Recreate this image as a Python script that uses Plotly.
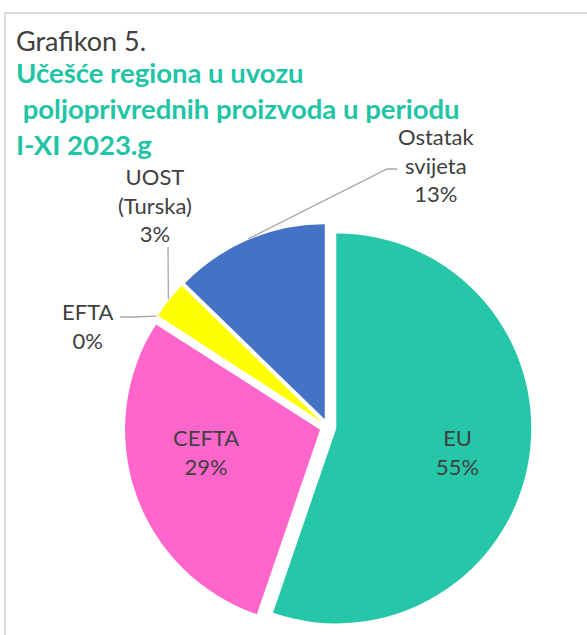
import math
import plotly.graph_objects as go

# ---- data ----
labels = ["EU", "CEFTA", "EFTA", "UOST (Turska)", "Ostatak svijeta"]
values = [55.2, 28.8, 0.1, 3.1, 12.7]
label_texts = ["EU<br>55%", "CEFTA<br>29%", "EFTA<br>0%", "UOST<br>(Turska)<br>3%", "Ostatak<br>svijeta<br>13%"]
colors = ["#25C7A8", "#FF66CC", "#FFFFFF", "#FFFF00", "#4472C4"]

W, H = 587, 635
CX, CY = 328, 427      # pie centre (px)
R = 195                # pie radius (px)
PULL = 0.043

half = R * (1 + PULL)
dom_x = [(CX - half) / W, (CX + half) / W]
dom_y = [1 - (CY + half) / H, 1 - (CY - half) / H]

fig = go.Figure(go.Pie(
    labels=labels, values=values, sort=False, direction="clockwise", rotation=0,
    marker=dict(colors=colors, line=dict(color="white", width=0)),
    pull=[PULL] * len(values), textinfo="none", hoverinfo="label+percent",
    domain=dict(x=dom_x, y=dom_y), showlegend=False,
))

def px(x, y):
    return x / W, 1 - y / H

# label positions (px, centre of text block)
label_pos = [(457, 452), (206, 452), (88, 326), (155, 205), (436, 165)]
font_lab = dict(family="Lato, Calibri, sans-serif", size=22, color="#404040")
for t, (lx, ly) in zip(label_texts, label_pos):
    ax_, ay_ = px(lx, ly)
    fig.add_annotation(x=ax_, y=ay_, xref="paper", yref="paper", text=t, showarrow=False,
                       xanchor="center", yanchor="middle", align="center", font=font_lab)

# leader lines: anchor at slice bisector, computed from data
total = sum(values)
cum = 0
anchors = []
for v in values:
    mid = (cum + v / 2) / total * 2 * math.pi
    cum += v
    r = R * (1 + PULL) + 1
    anchors.append((CX + r * math.sin(mid), CY - r * math.cos(mid)))

leader_ends = {2: [(132, 317), (120, 317)], 3: [(168, 247)], 4: [(387, 169), (397, 169)]}
for i, pts in leader_ends.items():
    allp = [anchors[i]] + pts
    path = "M " + " L ".join(f"{x/W:.5f},{1 - y/H:.5f}" for x, y in allp)
    fig.add_shape(type="path", path=path, xref="paper", yref="paper",
                  line=dict(color="#A6A6A6", width=1.3))

# titles
x0, y0 = px(14, 40)
fig.add_annotation(x=x0, y=y0, xref="paper", yref="paper", text="Grafikon 5.", showarrow=False,
                   xanchor="left", yanchor="middle",
                   font=dict(family="Lato, Calibri, sans-serif", size=27, color="#404040"))
x1, y1 = px(14, 108)
fig.add_annotation(x=x1, y=y1, xref="paper", yref="paper",
                   text="<b>Učešće regiona u uvozu<br>\u00a0poljoprivrednih proizvoda u periodu<br>I-XI 2023.g</b>",
                   showarrow=False, xanchor="left", yanchor="middle", align="left",
                   font=dict(family="Lato, Calibri, sans-serif", size=27.5, color="#21C4A5"))

# chart border (light grey)
fig.add_shape(type="rect", xref="paper", yref="paper",
              x0=5 / W, x1=1.05, y0=-0.05, y1=1 - 13 / H,
              line=dict(color="#D9D9D9", width=2), fillcolor="rgba(0,0,0,0)", layer="below")

fig.update_layout(width=W, height=H, margin=dict(l=0, r=0, t=0, b=0),
                  paper_bgcolor="white", plot_bgcolor="white")
fig.write_html("out.html", config={"displayModeBar": False},
               post_script="document.body.style.margin='0';")
